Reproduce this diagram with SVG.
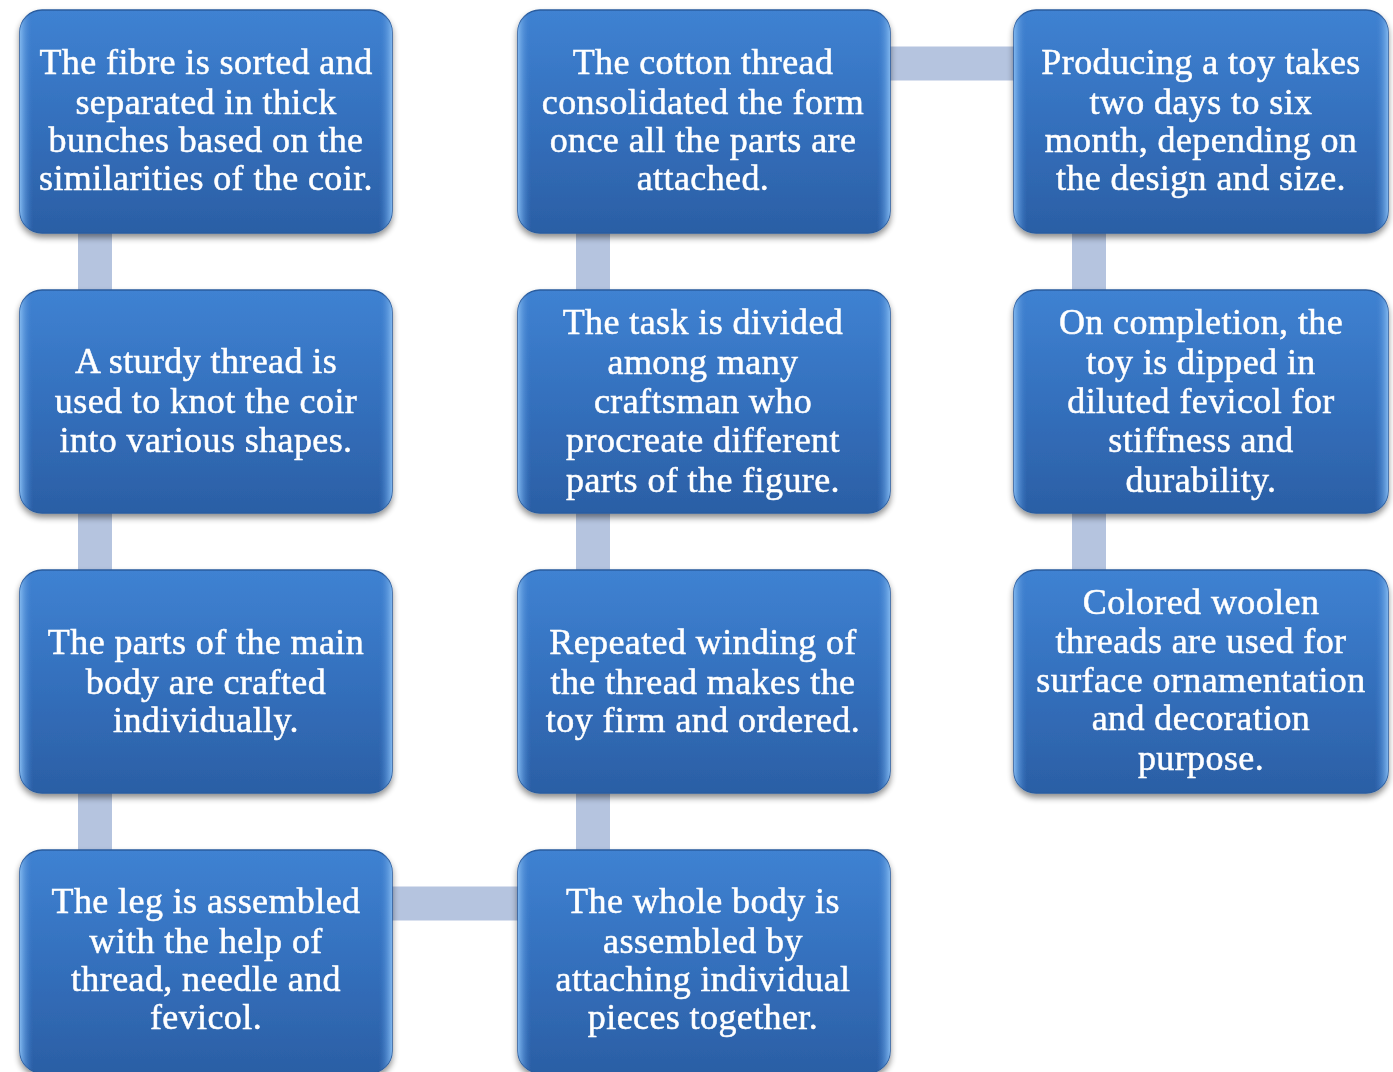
<svg xmlns="http://www.w3.org/2000/svg" width="1393" height="1072" viewBox="0 0 1393 1072">
<defs>
<linearGradient id="fill" x1="0" y1="0" x2="0" y2="1">
<stop offset="0" stop-color="#3f82d2"/>
<stop offset="0.5" stop-color="#3470bd"/>
<stop offset="1" stop-color="#2b5fa5"/>
</linearGradient>
<linearGradient id="edge" x1="0" y1="0" x2="1" y2="0">
<stop offset="0" stop-color="#7fb6ee"/>
<stop offset="0.035" stop-color="#3a7acb" stop-opacity="0"/>
<stop offset="0.965" stop-color="#3a7acb" stop-opacity="0"/>
<stop offset="1" stop-color="#7fb6ee"/>
</linearGradient>
<filter id="sh" x="-10%" y="-10%" width="120%" height="125%">
<feGaussianBlur in="SourceAlpha" stdDeviation="3"/>
<feOffset dx="0" dy="4" result="b"/>
<feComponentTransfer><feFuncA type="linear" slope="0.45"/></feComponentTransfer>
<feMerge><feMergeNode/><feMergeNode in="SourceGraphic"/></feMerge>
</filter>
</defs>
<style>
.box{fill:url(#fill);stroke:#2a5c9e;stroke-width:1.5}
.hl{fill:url(#edge);stroke:none}
.t{font-family:"Liberation Serif","Times New Roman",serif;font-size:36px;letter-spacing:0.4px;fill:#ffffff;stroke:#ffffff;stroke-width:0.5;text-anchor:middle}
.c{stroke:#b5c4df;stroke-width:34;fill:none}
</style>
<rect width="1393" height="1072" fill="#ffffff"/>
<g id="connectors">
<line class="c" x1="95" y1="225" x2="95" y2="300"/>
<line class="c" x1="95" y1="505" x2="95" y2="580"/>
<line class="c" x1="95" y1="785" x2="95" y2="860"/>
<line class="c" x1="593" y1="225" x2="593" y2="300"/>
<line class="c" x1="593" y1="505" x2="593" y2="580"/>
<line class="c" x1="593" y1="785" x2="593" y2="860"/>
<line class="c" x1="1089" y1="225" x2="1089" y2="300"/>
<line class="c" x1="1089" y1="505" x2="1089" y2="580"/>
<line class="c" x1="380" y1="903.5" x2="530" y2="903.5"/>
<line class="c" x1="880" y1="63.5" x2="1025" y2="63.5"/>
</g>
<g id="n1" filter="url(#sh)">
<rect class="box" x="20" y="10" width="372" height="223" rx="22"/>
<rect class="hl" x="20" y="10" width="372" height="223" rx="22"/>
<text class="t"><tspan x="206" y="74">The fibre is sorted and</tspan><tspan x="206" y="114">separated in thick</tspan><tspan x="206" y="152">bunches based on the</tspan><tspan x="206" y="190">similarities of the coir.</tspan></text>
</g>
<g id="n2" filter="url(#sh)">
<rect class="box" x="20" y="290" width="372" height="223" rx="22"/>
<rect class="hl" x="20" y="290" width="372" height="223" rx="22"/>
<text class="t"><tspan x="206" y="373">A sturdy thread is</tspan><tspan x="206" y="413">used to knot the coir</tspan><tspan x="206" y="452">into various shapes.</tspan></text>
</g>
<g id="n3" filter="url(#sh)">
<rect class="box" x="20" y="570" width="372" height="223" rx="22"/>
<rect class="hl" x="20" y="570" width="372" height="223" rx="22"/>
<text class="t"><tspan x="206" y="654">The parts of the main</tspan><tspan x="206" y="694">body are crafted</tspan><tspan x="206" y="732">individually.</tspan></text>
</g>
<g id="n4" filter="url(#sh)">
<rect class="box" x="20" y="850" width="372" height="223" rx="22"/>
<rect class="hl" x="20" y="850" width="372" height="223" rx="22"/>
<text class="t"><tspan x="206" y="913">The leg is assembled</tspan><tspan x="206" y="953">with the help of</tspan><tspan x="206" y="991">thread, needle and</tspan><tspan x="206" y="1029">fevicol.</tspan></text>
</g>
<g id="n5" filter="url(#sh)">
<rect class="box" x="518" y="850" width="372" height="223" rx="22"/>
<rect class="hl" x="518" y="850" width="372" height="223" rx="22"/>
<text class="t"><tspan x="703" y="913">The whole body is</tspan><tspan x="703" y="953">assembled by</tspan><tspan x="703" y="991">attaching individual</tspan><tspan x="703" y="1029">pieces together.</tspan></text>
</g>
<g id="n6" filter="url(#sh)">
<rect class="box" x="518" y="570" width="372" height="223" rx="22"/>
<rect class="hl" x="518" y="570" width="372" height="223" rx="22"/>
<text class="t"><tspan x="703" y="654">Repeated winding of</tspan><tspan x="703" y="694">the thread makes the</tspan><tspan x="703" y="732">toy firm and ordered.</tspan></text>
</g>
<g id="n7" filter="url(#sh)">
<rect class="box" x="518" y="290" width="372" height="223" rx="22"/>
<rect class="hl" x="518" y="290" width="372" height="223" rx="22"/>
<text class="t"><tspan x="703" y="334">The task is divided</tspan><tspan x="703" y="374">among many</tspan><tspan x="703" y="413">craftsman who</tspan><tspan x="703" y="452">procreate different</tspan><tspan x="703" y="492">parts of the figure.</tspan></text>
</g>
<g id="n8" filter="url(#sh)">
<rect class="box" x="518" y="10" width="372" height="223" rx="22"/>
<rect class="hl" x="518" y="10" width="372" height="223" rx="22"/>
<text class="t"><tspan x="703" y="74">The cotton thread</tspan><tspan x="703" y="114">consolidated the form</tspan><tspan x="703" y="152">once all the parts are</tspan><tspan x="703" y="190">attached.</tspan></text>
</g>
<g id="n9" filter="url(#sh)">
<rect class="box" x="1014" y="10" width="374" height="223" rx="22"/>
<rect class="hl" x="1014" y="10" width="374" height="223" rx="22"/>
<text class="t"><tspan x="1201" y="74">Producing a toy takes</tspan><tspan x="1201" y="114">two days to six</tspan><tspan x="1201" y="152">month, depending on</tspan><tspan x="1201" y="190">the design and size.</tspan></text>
</g>
<g id="n10" filter="url(#sh)">
<rect class="box" x="1014" y="290" width="374" height="223" rx="22"/>
<rect class="hl" x="1014" y="290" width="374" height="223" rx="22"/>
<text class="t"><tspan x="1201" y="334">On completion, the</tspan><tspan x="1201" y="374">toy is dipped in</tspan><tspan x="1201" y="413">diluted fevicol for</tspan><tspan x="1201" y="452">stiffness and</tspan><tspan x="1201" y="492">durability.</tspan></text>
</g>
<g id="n11" filter="url(#sh)">
<rect class="box" x="1014" y="570" width="374" height="223" rx="22"/>
<rect class="hl" x="1014" y="570" width="374" height="223" rx="22"/>
<text class="t"><tspan x="1201" y="614">Colored woolen</tspan><tspan x="1201" y="653">threads are used for</tspan><tspan x="1201" y="692">surface ornamentation</tspan><tspan x="1201" y="730">and decoration</tspan><tspan x="1201" y="770">purpose.</tspan></text>
</g>
</svg>
